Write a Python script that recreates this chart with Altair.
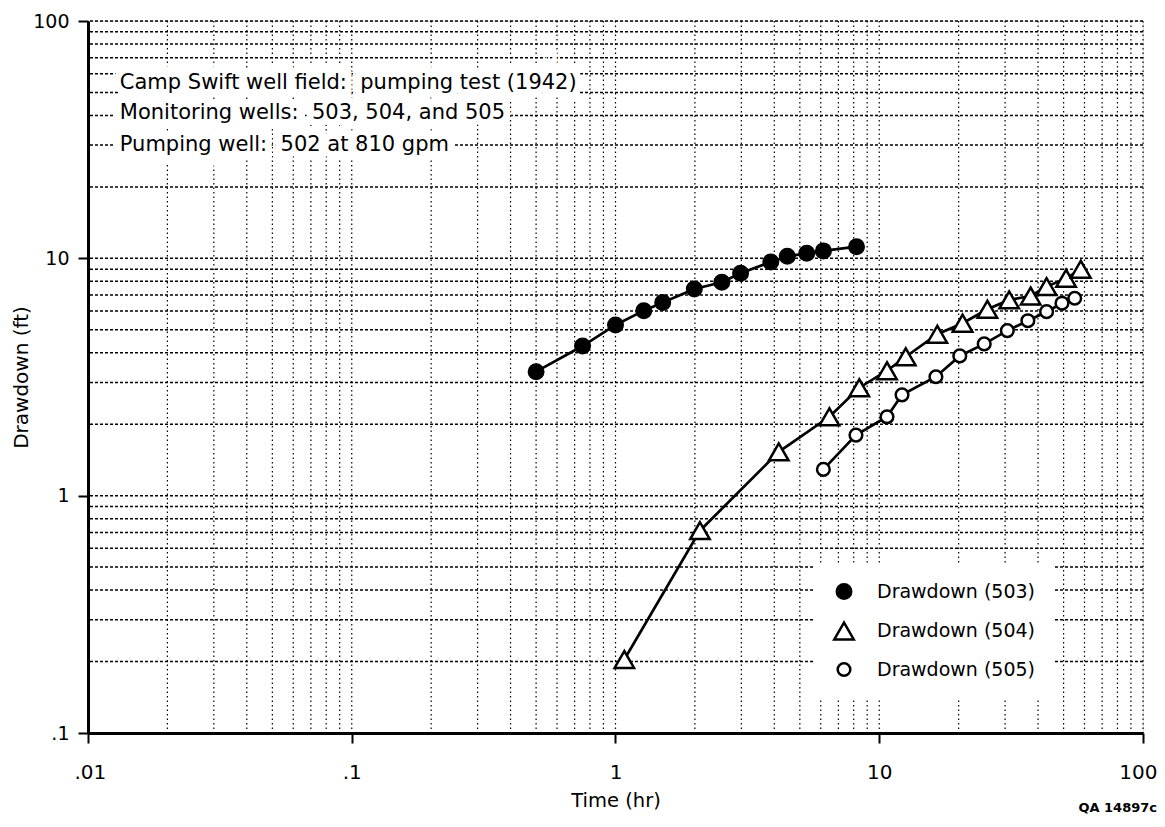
import altair as alt
import pandas as pd

FONT = "DejaVu Sans"

SERIES = ["Drawdown (503)", "Drawdown (504)", "Drawdown (505)"]

T_503 = [0.5, 0.75, 1.0, 1.28, 1.51, 1.99, 2.53, 2.98, 3.88, 4.48, 5.31, 6.14, 8.2]
D_503 = [3.33, 4.27, 5.24, 6.02, 6.51, 7.43, 7.93, 8.65, 9.66, 10.2, 10.5, 10.75, 11.2]

T_504 = [1.08, 2.09, 4.16, 6.47, 8.4, 10.7, 12.6, 16.6, 20.7, 25.7, 31.1, 37.5, 43.1, 51.1, 58.1]
D_504 = [0.204, 0.712, 1.53, 2.15, 2.85, 3.36, 3.85, 4.79, 5.33, 6.10, 6.68, 6.94, 7.6, 8.24, 9.0]

T_505 = [6.14, 8.16, 10.7, 12.2, 16.4, 20.2, 25.0, 30.6, 36.6, 43.1, 49.3, 55.1]
D_505 = [1.29, 1.80, 2.15, 2.66, 3.17, 3.88, 4.36, 4.96, 5.46, 5.96, 6.47, 6.79]

X_TICKS = [0.01, 0.1, 1, 10, 100]
X_TICK_LABELS = [".01", ".1", "1", "10", "100"]
Y_TICKS = [0.1, 1, 10, 100]
Y_TICK_LABELS = [".1", "1", "10", "100"]

GRID_MULT = [1, 2, 3, 4, 5, 6, 7, 8, 9]
X_DECADES = [0.01, 0.1, 1, 10]
Y_DECADES = [0.1, 1, 10]

NOTE_LINES = [
    "Camp Swift well field:\u00a0 pumping test (1942)",
    "Monitoring wells:\u00a0 503, 504, and 505",
    "Pumping well:\u00a0 502 at 810 gpm",
]
NOTE_X = [0.0132, 0.0132, 0.0132]
NOTE_Y = [55, 41, 30]

rows = []
for name, ts, ds in [(SERIES[0], T_503, D_503), (SERIES[1], T_504, D_504), (SERIES[2], T_505, D_505)]:
    for t, d in zip(ts, ds):
        rows.append({"well": name, "t": t, "d": d})
data = pd.DataFrame(rows)

xgrid = pd.DataFrame({"gx": [m * dec for dec in X_DECADES for m in GRID_MULT] + [100]})
ygrid = pd.DataFrame({"gy": [m * dec for dec in Y_DECADES for m in GRID_MULT] + [100]})
notes = pd.DataFrame({"x": NOTE_X, "y": NOTE_Y, "txt": NOTE_LINES})


def label_expr(ticks, labels):
    expr = "''"
    for v, lab in reversed(list(zip(ticks, labels))):
        expr = f"datum.value == {v} ? '{lab}' : ({expr})"
    return expr


XS = alt.Scale(type="log", domain=[0.01, 100], nice=False)
YS = alt.Scale(type="log", domain=[0.1, 100], nice=False)

XA = alt.Axis(values=X_TICKS, labelExpr=label_expr(X_TICKS, X_TICK_LABELS), grid=False,
              tickSize=10, tickWidth=2, tickColor="black", domainColor="black", domainWidth=3,
              labelFontSize=20, labelFont=FONT, labelColor="black", labelPadding=19,
              labelFlush=True, labelFlushOffset=14, labelOverlap=False,
              titleFontSize=19.5, titleFont=FONT, titleFontWeight="normal", titleColor="black",
              titlePadding=9)
YA = alt.Axis(values=Y_TICKS, labelExpr=label_expr(Y_TICKS, Y_TICK_LABELS), grid=False,
              tickSize=10, tickWidth=2, tickColor="black", domainColor="black", domainWidth=3,
              labelFontSize=19, labelFont=FONT, labelColor="black", labelPadding=9,
              labelFlush=False, labelOverlap=False,
              titleFontSize=20, titleFont=FONT, titleFontWeight="normal", titleColor="black",
              titlePadding=1)


def xenc(field):
    return alt.X(field, type="quantitative", scale=XS, axis=XA, title="Time (hr)")


def yenc(field):
    return alt.Y(field, type="quantitative", scale=YS, axis=YA, title="Drawdown (ft)")


vgrid = alt.Chart(xgrid).mark_rule(color="black", strokeWidth=1.2, strokeDash=[1.5, 3]).encode(x=xenc("gx"))
hgrid = alt.Chart(ygrid).mark_rule(color="black", strokeWidth=1.5, strokeDash=[3, 2]).encode(y=yenc("gy"))

halo = alt.Chart(notes).mark_text(align="left", baseline="middle", font=FONT, fontSize=21,
                                  color="white", stroke="white", strokeWidth=14).encode(
    x=xenc("x"), y=yenc("y"), text="txt:N")
note_text = alt.Chart(notes).mark_text(align="left", baseline="middle", font=FONT, fontSize=21,
                                       color="black").encode(
    x=xenc("x"), y=yenc("y"), text="txt:N")

lines = alt.Chart(data).mark_line(color="black", strokeWidth=2.7).encode(
    x=xenc("t"), y=yenc("d"), detail="well:N", order="t:Q")

legend = alt.Legend(title=None, orient="none", legendX=727, legendY=543, fillColor="white",
                    padding=18, labelFontSize=19, labelFont=FONT, labelColor="black",
                    rowPadding=13, labelOffset=22, symbolStrokeWidth=2.5,
                    symbolStrokeColor="black")

points = alt.Chart(data).mark_point(filled=True, strokeWidth=2.5, opacity=1).encode(
    x=xenc("t"), y=yenc("d"),
    shape=alt.Shape("well:N", scale=alt.Scale(domain=SERIES, range=["circle", "triangle-up", "circle"]), legend=legend),
    fill=alt.Fill("well:N", scale=alt.Scale(domain=SERIES, range=["black", "white", "white"]), legend=legend),
    stroke=alt.Stroke("well:N", scale=alt.Scale(domain=SERIES, range=["black", "black", "black"]), legend=legend),
    size=alt.Size("well:N", scale=alt.Scale(type="ordinal", domain=SERIES, range=[210, 380, 160]), legend=legend),
)

chart = alt.layer(vgrid, hgrid, halo, note_text, lines, points).properties(
    width=1055, height=712,
    autosize=alt.AutoSizeParams(type="none"),
    padding={"left": 80, "top": 13, "right": 14, "bottom": 86},
    title=alt.TitleParams("QA 14897c", orient="bottom", anchor="end", fontSize=13,
                          font=FONT, fontWeight="bold", color="black", offset=-8),
).configure_view(stroke="black", strokeWidth=2).configure(background="white")

chart.save("out.html", embed_options={"renderer": "svg", "actions": False})
